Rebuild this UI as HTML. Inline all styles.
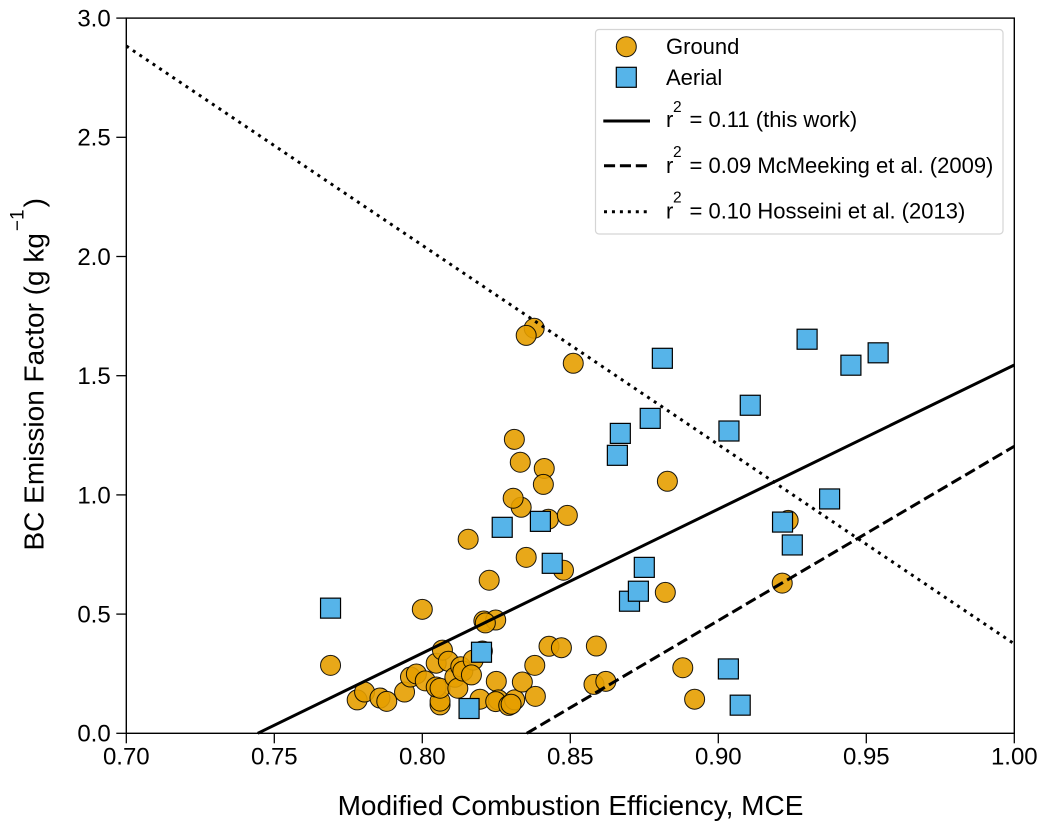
<!DOCTYPE html>
<html>
<head>
<meta charset="utf-8">
<title>BC Emission Factor vs MCE</title>
<style>
html,body{margin:0;padding:0;background:#fff;}
svg{display:block;}
text{font-family:"Liberation Sans",Arial,sans-serif;fill:#000;}
.tick{font-size:24px;}
.leg{font-size:22px;}
.sup{font-size:15.5px;}
.axis{font-size:28px;}
</style>
</head>
<body>
<svg id="chart" width="1045" height="830" viewBox="0 0 1045 830" xmlns="http://www.w3.org/2000/svg">
  <rect x="0" y="0" width="1045" height="830" fill="#fff"/>
  <g id="ground-layer"></g>
  <g id="line-layer"></g>
  <g id="aerial-layer"></g>
  <rect x="126.3" y="18.1" width="888" height="715.2" fill="none" stroke="#000" stroke-width="1.4"/>
  <g id="x-ticks"></g>
  <g id="y-ticks"></g>
  <text class="axis" x="570.5" y="815" text-anchor="middle">Modified Combustion Efficiency, MCE</text>
  <text class="axis" transform="translate(43.7,550.5) rotate(-90)" x="0" y="0">BC Emission Factor (g kg<tspan font-size="19" dy="-20" dx="2">−1</tspan><tspan dy="20" dx="2">)</tspan></text>
  <g>
    <rect x="595.5" y="29.5" width="407.5" height="204.5" rx="3.5" ry="3.5" fill="#fff" fill-opacity="0.9" stroke="#d5d5d5" stroke-width="1.2"/>
    <circle cx="626.3" cy="46.7" r="10" fill="#E69F00" fill-opacity="0.9" stroke="#000" stroke-opacity="0.9" stroke-width="1"/>
    <text class="leg" x="666" y="53.8">Ground</text>
    <rect x="616.3" y="67.3" width="20" height="20" fill="#56B4E9" stroke="#000" stroke-width="1.2"/>
    <text class="leg" x="666" y="84.8">Aerial</text>
    <line x1="603.3" y1="121" x2="650" y2="121" stroke="#000" stroke-width="3"/>
    <text class="leg" x="666" y="127">r</text>
    <text class="sup" x="673" y="112">2</text>
    <text class="leg" x="689.5" y="127">= 0.11 (this work)</text>
    <line x1="604" y1="165.7" x2="650" y2="165.7" stroke="#000" stroke-width="3" stroke-dasharray="11.1 4.8"/>
    <text class="leg" x="666" y="173">r</text>
    <text class="sup" x="673" y="157">2</text>
    <text class="leg" x="689.5" y="173">= 0.09 McMeeking et al. (2009)</text>
    <line x1="604" y1="211.7" x2="650" y2="211.7" stroke="#000" stroke-width="3" stroke-dasharray="3 4.95"/>
    <text class="leg" x="666" y="218.5">r</text>
    <text class="sup" x="673" y="202.5">2</text>
    <text class="leg" x="689.5" y="218.5">= 0.10 Hosseini et al. (2013)</text>
  </g>
</svg>
<script>
const groundMCE = [0.769,0.778,0.7805,0.7857,0.788,0.794,0.796,0.798,0.801,0.80,0.8047,0.8068,0.806,0.806,0.8047,0.806,0.8088,0.811,0.812,0.813,0.8137,0.8172,0.8166,0.8195,0.8203,0.8208,0.8248,0.8213,0.8226,0.825,0.8257,0.8248,0.8292,0.8312,0.830,0.8338,0.838,0.8382,0.8428,0.847,0.8588,0.858,0.862,0.8477,0.8378,0.8351,0.851,0.8311,0.8331,0.8412,0.8409,0.8334,0.8307,0.8426,0.849,0.8155,0.8351,0.8828,0.8821,0.9236,0.9216,0.888,0.892];
const groundEF = [0.285,0.14,0.173,0.148,0.134,0.173,0.236,0.249,0.22,0.52,0.294,0.349,0.119,0.135,0.194,0.189,0.302,0.235,0.189,0.279,0.261,0.307,0.245,0.143,0.345,0.471,0.475,0.463,0.642,0.218,0.14,0.133,0.117,0.14,0.122,0.215,0.285,0.155,0.365,0.359,0.366,0.205,0.218,0.684,1.699,1.669,1.552,1.233,1.137,1.111,1.044,0.948,0.986,0.898,0.914,0.814,0.738,1.057,0.591,0.893,0.63,0.275,0.143];
const aerialMCE = [0.769,0.8158,0.82,0.827,0.8399,0.8439,0.8659,0.8669,0.877,0.8811,0.875,0.87,0.873,0.9036,0.9108,0.93,0.9448,0.954,0.9376,0.9217,0.925,0.9034,0.9074];
const aerialEF = [0.525,0.104,0.34,0.864,0.889,0.713,1.166,1.258,1.321,1.573,0.696,0.554,0.596,1.268,1.376,1.653,1.544,1.596,0.983,0.886,0.79,0.27,0.118];
const thisWorkX = [0.7444,1.0];
const thisWorkY = [0,1.545];
const mcmeekingX = [0.8353,1.0];
const mcmeekingY = [0,1.204];
const hosseiniX = [0.7,1.0];
const hosseiniY = [2.883,0.375];
const xTickValues = [0.70,0.75,0.80,0.85,0.90,0.95,1.00];
const xTickLabels = ["0.70","0.75","0.80","0.85","0.90","0.95","1.00"];
const yTickValues = [0,0.5,1,1.5,2,2.5,3];
const yTickLabels = ["0.0","0.5","1.0","1.5","2.0","2.5","3.0"];

const NS = 'http://www.w3.org/2000/svg';
const xDomain = [0.7,1.0], xRange = [126.3,1014.3];
const yDomain = [0,3.0], yRange = [733.3,18.1];
function xScale(v){ return xRange[0] + (v - xDomain[0]) / (xDomain[1] - xDomain[0]) * (xRange[1] - xRange[0]); }
function yScale(v){ return yRange[0] + (v - yDomain[0]) / (yDomain[1] - yDomain[0]) * (yRange[1] - yRange[0]); }
function make(tag, attrs){
  const el = document.createElementNS(NS, tag);
  for (const k in attrs) el.setAttribute(k, attrs[k]);
  return el;
}

const groundLayer = document.getElementById('ground-layer');
groundMCE.forEach(function(x, i){
  const c = make('circle', {cx:xScale(x), cy:yScale(groundEF[i]), r:10, fill:'#E69F00', 'fill-opacity':0.9, stroke:'#000', 'stroke-opacity':0.9, 'stroke-width':1});
  
  
  groundLayer.appendChild(c);
});

const lineLayer = document.getElementById('line-layer');
function drawLine(xs, ys, dash){
  const p = make('line', {x1:xScale(xs[0]), y1:yScale(ys[0]), x2:xScale(xs[1]), y2:yScale(ys[1]), stroke:'#000', 'stroke-width':3});
  if (dash) p.setAttribute('stroke-dasharray', dash);
  lineLayer.appendChild(p);
  return p;
}
const thisWorkLine = drawLine(thisWorkX, thisWorkY, '');


const mcmeekingLine = drawLine(mcmeekingX, mcmeekingY, '11.1 4.8');


const hosseiniLine = drawLine(hosseiniX, hosseiniY, '3 4.95');



const aerialLayer = document.getElementById('aerial-layer');
aerialMCE.forEach(function(x, i){
  const s = make('rect', {x:xScale(x)-10, y:yScale(aerialEF[i])-10, width:20, height:20, fill:'#56B4E9', stroke:'#000', 'stroke-width':1.2});
  
  
  aerialLayer.appendChild(s);
});

const xTicks = document.getElementById('x-ticks');
xTickValues.forEach(function(v, i){
  const px = xScale(v);
  const t = make('line', {x1:px, y1:yRange[0], x2:px, y2:yRange[0]+10, stroke:'#000', 'stroke-width':1.3});
  
  
  xTicks.appendChild(t);
  const l = make('text', {x:px, y:764.5, 'text-anchor':'middle', 'class':'tick'});
  
  
  l.textContent = xTickLabels[i];
  xTicks.appendChild(l);
});

const yTicks = document.getElementById('y-ticks');
yTickValues.forEach(function(v, i){
  const py = yScale(v);
  const t = make('line', {x1:xRange[0]-10, y1:py, x2:xRange[0], y2:py, stroke:'#000', 'stroke-width':1.3});
  
  
  yTicks.appendChild(t);
  const l = make('text', {x:110.7, y:py+8.4, 'text-anchor':'end', 'class':'tick'});
  
  
  l.textContent = yTickLabels[i];
  yTicks.appendChild(l);
});
</script>
</body>
</html>
